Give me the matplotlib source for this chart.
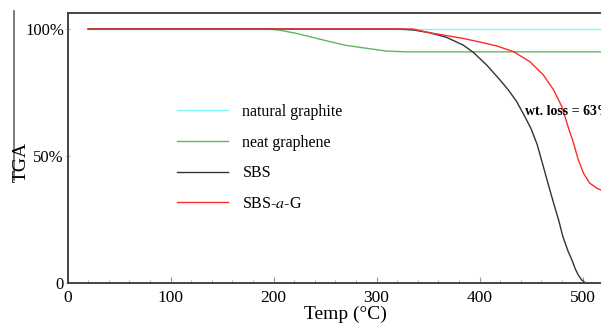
import numpy as np
import matplotlib
matplotlib.use("Agg")
import matplotlib.pyplot as plt
from matplotlib.lines import Line2D
from matplotlib.ticker import MultipleLocator

plt.rcParams['font.family'] = ['Liberation Serif', 'DejaVu Serif']
plt.rcParams['mathtext.fontset'] = 'stix'

# TGA curves, temperature (C) vs weight (%)
graphite_t = [20, 540]
graphite_w = [100, 100]

graphene_t = [20, 195, 205, 222, 240, 255, 270, 287, 310, 330, 540]
graphene_w = [100, 100, 99.6, 98.3, 96.5, 95.0, 93.6, 92.6, 91.3, 91.0, 91.0]

sbs_t = [20, 320, 336, 352, 368, 384, 394, 407, 420, 428, 436, 443, 450,
         456, 462, 467, 472, 477, 481, 486, 490, 493, 496, 499, 502]
sbs_w = [100, 100, 99.6, 98.5, 96.7, 93.7, 90.8, 85.8, 79.9, 76.0, 71.5,
         66.3, 60.8, 54.5, 45.8, 38.5, 31.4, 24.5, 18.2, 12.5, 8.8, 5.5,
         3.1, 1.3, 0.3]

sbsg_t = [20, 335, 352, 368, 384, 400, 417, 433, 449, 462, 472, 480, 486,
          491, 496, 501, 507, 514, 518, 530, 540]
sbsg_w = [100, 100, 98.5, 97.4, 96.3, 94.9, 93.3, 91.1, 87.1, 81.9, 76.0,
          69.4, 61.5, 55.5, 48.4, 43.2, 39.3, 37.3, 36.6, 35.8, 35.4]

labels = ['natural graphite', 'neat graphene', 'SBS', 'SBS-$\\mathit{a}$-G']
colors = ['#7ff7f7', '#62b462', '#333333', '#ff2a2a']

W, H = 601, 330
fig = plt.figure(figsize=(W / 100, H / 100), dpi=100)
# axes run past the right edge like the cropped original
x0, xr = 67.5, 1.03
ax = fig.add_axes([x0 / W, 47 / H, 540 * xr / W, 270 / H])
ax.set_xlim(0, 540)
ax.set_ylim(0, 106.3)

series = [(graphite_t, graphite_w), (graphene_t, graphene_w),
          (sbs_t, sbs_w), (sbsg_t, sbsg_w)]
for (t, w), c, lab in zip(series, colors, labels):
    ax.plot(t, w, color=c, lw=1.0, label=lab)

for s in ['left', 'bottom', 'top', 'right']:
    ax.spines[s].set_color('#444444')
    ax.spines[s].set_linewidth(1.4)

ax.set_xticks([0, 100, 200, 300, 400, 500])
ax.xaxis.set_minor_locator(MultipleLocator(20))
ax.tick_params(axis='x', which='major', direction='in', length=4,
               width=0.8, color='#999999', labelsize=12.5, pad=5)
ax.tick_params(axis='x', which='minor', direction='in', length=2,
               width=0.6, color='#999999')
ax.set_yticks([0, 50, 100])
ax.set_yticklabels(['0', '50%', '100%'])
ax.tick_params(axis='y', direction='inout', length=3, width=0.6,
               color='#999999', labelsize=12, pad=1)
ax.tick_params(top=False, right=False)

ax.set_xlabel('Temp (°C)', fontsize=14, labelpad=0)
fig.text(21 / W, 1 - 162 / H, 'TGA', rotation=90, fontsize=14,
         ha='center', va='center')

ax.legend(loc='upper left', bbox_to_anchor=(177 / W, 1 - 104 / H),
          bbox_transform=fig.transFigure, frameon=False, fontsize=11.5,
          handlelength=3.2, handletextpad=0.9, labelspacing=0.92,
          borderpad=0, borderaxespad=0)

ax.text(444, 67.4, 'wt. loss = 63%', fontsize=10, fontweight='bold',
        va='center', ha='left', clip_on=False)

# stray frame line at left of the original image
fig.add_artist(Line2D([14 / W, 14 / W], [1 - 11 / H, 1 - 180 / H],
                      transform=fig.transFigure, color='#666666', lw=1.2))

fig.savefig('out.png', dpi=100)
